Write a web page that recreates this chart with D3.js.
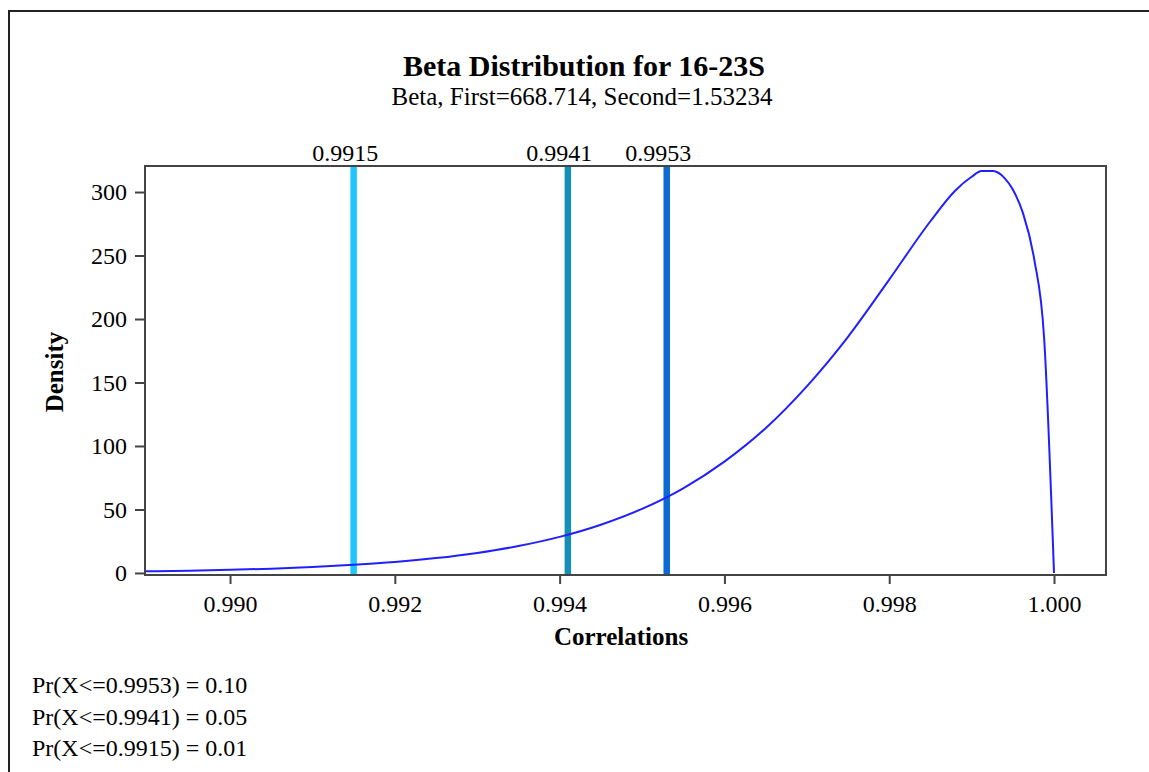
<!DOCTYPE html>
<html>
<head>
<meta charset="utf-8">
<script src="https://cdn.jsdelivr.net/npm/d3@7/dist/d3.min.js"></script>
<style>
  body { margin: 0; background: #fff; }
  svg { display: block; font-family: "Liberation Serif", "Times New Roman", serif; }
</style>
</head>
<body>
<svg id="chart"></svg>
<script>
// Beta density (x = correlation, y = density)
const corrX = [0.98897, 0.9895, 0.9900, 0.9905, 0.9910, 0.9915, 0.9920, 0.9925, 0.9930, 0.9935,
  0.9940, 0.9945, 0.9950, 0.9955, 0.9960, 0.9965, 0.9970, 0.9975, 0.9980, 0.9985,
  0.9988, 0.9990, 0.99912, 0.99926, 0.9994, 0.9995, 0.99962, 0.99976, 0.99988, 1.0000];
const density = [1.3, 1.8, 2.5, 3.4, 4.7, 6.4, 8.6, 11.7, 15.8, 21.2,
  28.4, 38.0, 50.5, 66.7, 87.7, 114, 147, 186, 231, 277,
  301, 312, 316.5, 316.5, 311, 302, 284, 247, 185, 0];

// reference lines (quantiles)
const refValues = [0.9915, 0.9941, 0.9953];
const refLabels = ["0.9915", "0.9941", "0.9953"];
const refColors = ["#1ec8ff", "#168fb6", "#0b6bd0"];

const xTicks = [0.990, 0.992, 0.994, 0.996, 0.998, 1.000];
const yTicks = [0, 50, 100, 150, 200, 250, 300];

const footLines = ["Pr(X<=0.9953) = 0.10", "Pr(X<=0.9941) = 0.05", "Pr(X<=0.9915) = 0.01"];

const width = 1149, height = 772;
const box = { left: 145, top: 166, right: 1106, bottom: 575 };

const svg = d3.select("#chart").attr("width", width).attr("height", height);

// page frame (runs off the right and bottom)
svg.append("rect")
  .attr("x", 9).attr("y", 11)
  .attr("width", 1300).attr("height", 900)
  .style("fill", "none").style("stroke", "#222").style("stroke-width", 2);

const x = d3.scaleLinear().domain([0.988968, 1.000631]).range([box.left, box.right]);
const y = d3.scaleLinear().domain([-1.6, 320.5]).range([box.bottom, box.top]);

// titles
svg.append("text")
  .attr("x", 584).attr("y", 76)
  .style("text-anchor", "middle").style("font-weight", "bold").style("font-size", "30px")
  .text("Beta Distribution for 16-23S");
svg.append("text")
  .attr("x", 582).attr("y", 105)
  .style("text-anchor", "middle").style("font-size", "25px")
  .text("Beta, First=668.714, Second=1.53234");

// axes
const xAxis = svg.append("g")
  .attr("transform", `translate(0,${box.bottom})`)
  .call(d3.axisBottom(x).tickValues(xTicks).tickFormat(d3.format(".3f")).tickSize(9).tickPadding(11));
const yAxis = svg.append("g")
  .attr("transform", `translate(${box.left},0)`)
  .call(d3.axisLeft(y).tickValues(yTicks).tickSize(10).tickPadding(8));

[xAxis, yAxis].forEach(g => {
  g.select(".domain").remove();
  g.selectAll(".tick line").style("stroke", "#444").style("stroke-width", 2);
  g.selectAll(".tick text")
    .style("font-size", "24px").style("fill", "#000")
    .style("font-family", "\"Liberation Serif\", \"Times New Roman\", serif");
});

// reference lines
svg.selectAll(".ref-line")
  .data(refValues)
  .enter()
  .append("line")
  .attr("class", "ref-line")
  .attr("x1", d => x(d)).attr("x2", d => x(d))
  .attr("y1", box.top).attr("y2", box.bottom)
  .style("stroke", (d, i) => refColors[i])
  .style("stroke-width", 6.5);

svg.selectAll(".ref-label")
  .data(refValues)
  .enter()
  .append("text")
  .attr("class", "ref-label")
  .attr("x", d => x(d) - 8.5)
  .attr("y", 161)
  .style("text-anchor", "middle").style("font-size", "24px")
  .text((d, i) => refLabels[i]);

// density curve
const line = d3.line()
  .x((d, i) => x(corrX[i]))
  .y(d => y(d))
  .curve(d3.curveMonotoneX);

svg.append("path")
  .datum(density)
  .attr("d", line)
  .style("fill", "none")
  .style("stroke", "#2020ff")
  .style("stroke-width", 2);

// plot frame
svg.append("rect")
  .attr("x", box.left).attr("y", box.top)
  .attr("width", box.right - box.left).attr("height", box.bottom - box.top)
  .style("fill", "none").style("stroke", "#444").style("stroke-width", 2);

// axis labels
svg.append("text")
  .attr("x", 621).attr("y", 645)
  .style("text-anchor", "middle").style("font-weight", "bold").style("font-size", "25px")
  .text("Correlations");
svg.append("text")
  .attr("transform", "translate(63,372) rotate(-90)")
  .style("text-anchor", "middle").style("font-weight", "bold").style("font-size", "25px")
  .text("Density");

// footnotes
svg.selectAll(".foot")
  .data(footLines)
  .enter()
  .append("text")
  .attr("class", "foot")
  .attr("x", 32)
  .attr("y", (d, i) => 693 + i * 31.5)
  .style("font-size", "24px")
  .text(d => d);
</script>
</body>
</html>
